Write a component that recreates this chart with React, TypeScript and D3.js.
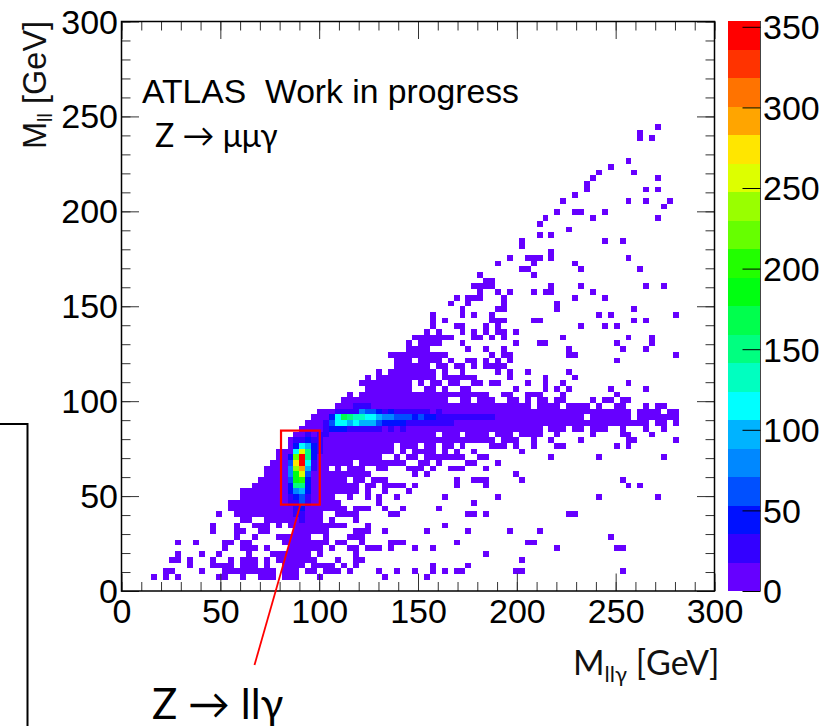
import React, { useEffect, useRef } from 'react';
import * as d3 from 'd3';

const BIN_GEV = 3;
const Z_MAX = 353.6;
const LOW_COUNT = 5;

const xMajorTicks = [0, 50, 100, 150, 200, 250, 300];
const xMinorTicks = d3.range(0, 301, 10);
const yMajorTicks = [0, 50, 100, 150, 200, 250, 300];
const yMinorTicks = d3.range(0, 301, 10);
const zTicks = [0, 50, 100, 150, 200, 250, 300, 350];

const bandColors = [
  '#6600ff', '#3300ff', '#0011ff', '#0050ff', '#0088ff', '#00b3ff', '#00ffff', '#00ffc0', '#00ff80', '#00ff4d',
  '#00ff11', '#22ff00', '#66ff00', '#99ff00', '#ddff00', '#ffe600', '#ffa500', '#ff7300', '#ff3300', '#ff0000',
];

// occupied bins per M_ll row, starting at row 2 ("a-b" = column range)
const occupiedRows = [
  '5 7 9 16-17 20 23-25 27-29 33 44 51',
  '7-8 13 17-25 27-29 31-32 34-36 38 43 46 49 52 54 56-57 66-67 84',
  '11 15-18 20-22 24 27-30 32-35 37 39 52 58',
  '8-9 11 15 18 20-22 24 26-32 36 39-40 67',
  '9 13 16 21 25-31 33 39 61',
  '17 20-22 24 28-33 35 38-39 41-43 45 49 52 73 83-84',
  '9 12 17-18 20-21 27-34 36-37 40 45-47 56 68-69',
  '19 22 26-31 34 38-40 82',
  '15 19-20 23-24 29-34 39-41 44 51 58 65 70',
  '15 19 22-24 26 28-37 41 54',
  '20-21 24-33 35 39',
  '16 19-33 36-39 45-46 58-59 61 75-76',
  '18-37 39-41 44 47 53',
  '18-36 43 59',
  '20-35 38 41 43 46 54 63 80 90',
  '20-39 41 44 48',
  '22-39 41-42 44-47 49 56 61 85 87',
  '23-37 39-40 42-44 56 59-61 67 84',
  '24-41 49 51 66',
  '24-34 36 38-40 43-44 48-50 52 55-57 61',
  '25-38 40-47 50-51 53 58-59 63',
  '26-43 46 48-49 51-57 60-61 72 80 91',
  '26-45 47 49-52 54 56 59 67',
  '28-45 47-49 51-52 54-55 57 62-64 66 69 73-74 83 85',
  '28-62 64-66 69 72 77 85-86 93',
  '29-52 54-56 58-61 63-65 67-70 73 79 84-85 89',
  '30-70 72-74 76-77 79-81 84 88 91',
  '31-88 90-91 93',
  '32-77 79-85 87-93',
  '33-85 87-90 92-93',
  '36-68 70-73 75-78 80 83-84 88 90-91',
  '37-54 57-58 60-62 65-66 68 70-71 73-74 79 81-82 84-85',
  '38 40-61 64-65 68-70 74 83',
  '41-48 51-52 54 57-58 66 71 73 75 82 88',
  '40-48 50 52-53 55-56 59-60 62-63 68 71 74 85',
  '41 43-52 54-59 65 71 76',
  '43 45-52 54 57 63 65 68 75',
  '46-51 53-54 56-57 59 61-64',
  '46-48 50-53 55 58-59 61 63 65 83',
  '45-54 62 64-65 75-76 93',
  '48-51 58 61 64 75 84 88',
  '48 50-53 57 66 70-71 83 89',
  '49-55 59-60 62 64 74 85 89',
  '51 53 57 59 61 63-64 66',
  '52 56-57 61 63 77 81 83',
  '52 54 62-64 69-70 86 88',
  '52 57 59 62 80 82 93',
  '57 63-64 73 86',
  '55 58 64 73',
  '56 58-60 64 76 81',
  '60 63 65 69 71-72 79',
  '59-62 72 77 88 91',
  '61-62',
  '60 69',
  '67-68 77 87',
  '63 69 76',
  '65 68-70 72 85',
  '72',
  '67',
  '67 81 84',
  '70 72',
  '75',
  '70',
  '71 79 90',
  '73 76-77 81',
  '91',
  '74 85 88 92',
  '76',
  '78 88 90',
  '78',
  '79 90',
  '80 86',
  '82',
  '85',
  '',
  '',
  '',
  '87 89',
  '87',
  '90',
];

// bins above the lowest colour band, "row|column:count ..."
const peakRows = [
  '12|30:25',
  '13|29:25 30:25',
  '14|29:25 30:40',
  '15|28:25 29:25 30:60 31:25',
  '16|28:25 29:45 30:60 31:25',
  '17|28:40 29:80 30:97 31:40',
  '18|28:45 29:150 30:150 31:45',
  '19|28:60 29:185 30:200 31:45',
  '20|28:80 29:185 30:255 31:60',
  '21|28:80 29:240 30:290 31:97 32:25',
  '22|28:60 29:275 30:345 31:115 32:25',
  '23|28:45 29:220 30:345 31:150 32:45',
  '24|29:115 30:255 31:150 32:45 33:25',
  '25|29:45 30:115 31:97 32:45 33:25',
  '26|29:25 30:25 31:45 32:25 33:25',
  '27|31:25 33:25 34:25',
  '28|34:25 35:45 36:45 37:45 38:25 39:25 40:25 41:25 42:25 43:25 45:25 47:25',
  '29|34:25 35:60 36:115 37:115 38:97 39:115 40:97 41:97 42:97 43:60 44:45 45:45 46:45 47:45 48:25 49:25 50:25 51:25 52:25 53:25 54:25 55:25',
  '30|35:45 36:115 37:170 38:150 39:135 40:135 41:115 42:115 43:97 44:80 45:80 46:60 47:60 48:60 49:45 50:60 51:45 52:45 53:25 54:25 55:25 56:25 57:25 58:25 59:25 60:25 61:25 62:25',
  '31|36:25 37:25 38:25 39:25 40:80 41:60 42:60 43:45 44:25 45:45 46:25 47:25 48:25 49:25 50:25 51:25 53:25',
  '32|39:25 40:25 41:25',
];

type Bin = { col: number; row: number; count: number };

function buildBins(): Bin[] {
  const bins = new Map<string, Bin>();
  occupiedRows.forEach((spec, i) => {
    const row = i + 2;
    spec.split(' ').filter(Boolean).forEach((part) => {
      const [a, b] = part.split('-').map(Number);
      d3.range(a, (b ?? a) + 1).forEach((col) => {
        bins.set(col + '_' + row, { col, row, count: LOW_COUNT });
      });
    });
  });
  peakRows.forEach((spec) => {
    const [rowText, cells] = spec.split('|');
    const row = +rowText;
    cells.split(' ').forEach((cell) => {
      const [col, count] = cell.split(':').map(Number);
      bins.set(col + '_' + row, { col, row, count });
    });
  });
  return Array.from(bins.values());
}

export default function App() {
  const ref = useRef<SVGSVGElement | null>(null);

  useEffect(() => {
    const svg = d3.select(ref.current);
    svg.selectAll('*').remove();

    const left = 121.5, right = 714.5, top = 21.5, bottom = 591;
    const x = d3.scaleLinear().domain([0, 300]).range([left, right]);
    const y = d3.scaleLinear().domain([0, 300]).range([bottom, top]);
    const z = d3.scaleLinear().domain([0, Z_MAX]).range([591, 21]);
    const color = d3.scaleQuantize<string>().domain([0, Z_MAX]).range(bandColors);
    const tickFont = 'Liberation Sans, Arial, sans-serif';

    // histogram cells
    svg.append('g')
      .attr('shape-rendering', 'crispEdges')
      .selectAll('rect')
      .data(buildBins())
      .join('rect')
      .attr('x', (d) => x(d.col * BIN_GEV))
      .attr('y', (d) => y((d.row + 1) * BIN_GEV))
      .attr('width', (d) => x((d.col + 1) * BIN_GEV) - x(d.col * BIN_GEV))
      .attr('height', (d) => y(d.row * BIN_GEV) - y((d.row + 1) * BIN_GEV))
      .attr('fill', (d) => color(d.count));

    // frame ticks, all inward
    const styleTicks = (g: any) => {
      g.select('.domain').remove();
      g.selectAll('line').attr('stroke', '#333').attr('stroke-width', 1);
    };
    const minor = (axis: any, values: number[]) => axis.tickValues(values).tickSize(-9).tickFormat(() => '');
    const major = (axis: any, values: number[]) => axis.tickValues(values).tickSize(-17.5);

    [
      { gen: minor(d3.axisBottom(x), xMinorTicks), at: [0, bottom] },
      { gen: minor(d3.axisTop(x), xMinorTicks), at: [0, top] },
      { gen: minor(d3.axisLeft(y), yMinorTicks), at: [left, 0] },
      { gen: minor(d3.axisRight(y), yMinorTicks), at: [right, 0] },
      { gen: major(d3.axisTop(x), xMajorTicks).tickFormat(() => ''), at: [0, top] },
      { gen: major(d3.axisRight(y), yMajorTicks).tickFormat(() => ''), at: [right, 0] },
    ].forEach(({ gen, at }) => {
      svg.append('g').attr('transform', `translate(${at[0]},${at[1]})`).call(gen).call(styleTicks);
    });

    const xAxis = svg.append('g')
      .attr('transform', `translate(0,${bottom})`)
      .call(major(d3.axisBottom(x), xMajorTicks).tickPadding(8).tickFormat(d3.format('d')))
      .call(styleTicks);
    xAxis.selectAll('text').attr('font-family', tickFont).attr('font-size', 34).attr('fill', '#000');

    const yAxis = svg.append('g')
      .attr('transform', `translate(${left},0)`)
      .call(major(d3.axisLeft(y), yMajorTicks).tickPadding(3.5).tickFormat(d3.format('d')))
      .call(styleTicks);
    yAxis.selectAll('text').attr('font-family', tickFont).attr('font-size', 34).attr('fill', '#000').attr('dy', '0.34em');

    svg.append('rect')
      .attr('x', left).attr('y', top)
      .attr('width', right - left).attr('height', bottom - top)
      .attr('fill', 'none').attr('stroke', '#000').attr('stroke-width', 1.5);

    // colour bar
    const barLeft = 728, barRight = 760.5;
    const bandStep = Z_MAX / bandColors.length;
    svg.append('g')
      .attr('shape-rendering', 'crispEdges')
      .selectAll('rect')
      .data(bandColors)
      .join('rect')
      .attr('x', barLeft)
      .attr('y', (_, i) => z((i + 1) * bandStep))
      .attr('width', barRight - barLeft)
      .attr('height', (_, i) => z(i * bandStep) - z((i + 1) * bandStep))
      .attr('fill', (d) => d);

    svg.append('line')
      .attr('x1', barRight).attr('x2', barRight).attr('y1', 21).attr('y2', 591)
      .attr('stroke', '#444').attr('stroke-width', 1);

    const zAxis = svg.append('g')
      .attr('transform', `translate(${barRight},0)`)
      .call(d3.axisRight(z).tickValues(zTicks).tickSize(-18).tickPadding(2.5).tickFormat(d3.format('d')))
      .call(styleTicks);
    zAxis.selectAll('line').attr('stroke', '#000');
    zAxis.selectAll('text').attr('font-family', tickFont).attr('font-size', 34).attr('fill', '#000').attr('dy', '0.35em');

    // titles
    const calibri = 'Lato, Carlito, sans-serif';
    const xTitle = svg.append('text')
      .attr('x', 573).attr('y', 675)
      .attr('font-family', calibri).attr('font-size', 34).attr('fill', '#111');
    xTitle.append('tspan').text('M');
    xTitle.append('tspan').attr('font-size', 22).attr('dy', 7).text('llγ');
    xTitle.append('tspan').attr('dy', -7).text(' [GeV]');

    const yTitle = svg.append('text')
      .attr('transform', 'translate(46,149) rotate(-90)')
      .attr('font-family', tickFont).attr('font-size', 32.5).attr('fill', '#111');
    yTitle.append('tspan').text('M');
    yTitle.append('tspan').attr('font-size', 20).attr('dy', 6).text('ll');
    yTitle.append('tspan').attr('dy', -6).text(' [GeV]');

    svg.append('text').attr('x', 142).attr('y', 103)
      .attr('font-family', tickFont).attr('font-size', 33.7).attr('fill', '#000')
      .style('white-space', 'pre')
      .text('ATLAS  Work in progress');

    svg.append('text').attr('x', 155).attr('y', 147)
      .attr('font-family', calibri).attr('font-size', 32).attr('fill', '#000')
      .text('Z → μμγ');

    // annotation box and pointer
    svg.append('rect')
      .attr('x', x(80.7)).attr('y', y(84.5))
      .attr('width', x(100.3) - x(80.7)).attr('height', y(45.5) - y(84.5))
      .attr('fill', 'none').attr('stroke', '#ff0000').attr('stroke-width', 2.2);
    svg.append('line')
      .attr('x1', x(90.5)).attr('y1', y(45.5)).attr('x2', 254.5).attr('y2', 665)
      .attr('stroke', '#ff0000').attr('stroke-width', 1.8);

    svg.append('text').attr('x', 152).attr('y', 719)
      .attr('font-family', calibri).attr('font-size', 42).attr('fill', '#000')
      .text('Z → llγ');

    // stray rule on the left edge of the slide
    svg.append('path')
      .attr('d', d3.line()([[0, 424], [27.5, 424], [27.5, 726]]))
      .attr('fill', 'none').attr('stroke', '#000').attr('stroke-width', 2);
  }, []);

  return (
    <svg
      ref={ref}
      width={834}
      height={726}
      style={{ position: 'absolute', left: 0, top: 0, display: 'block', background: '#fff' }}
    />
  );
}
